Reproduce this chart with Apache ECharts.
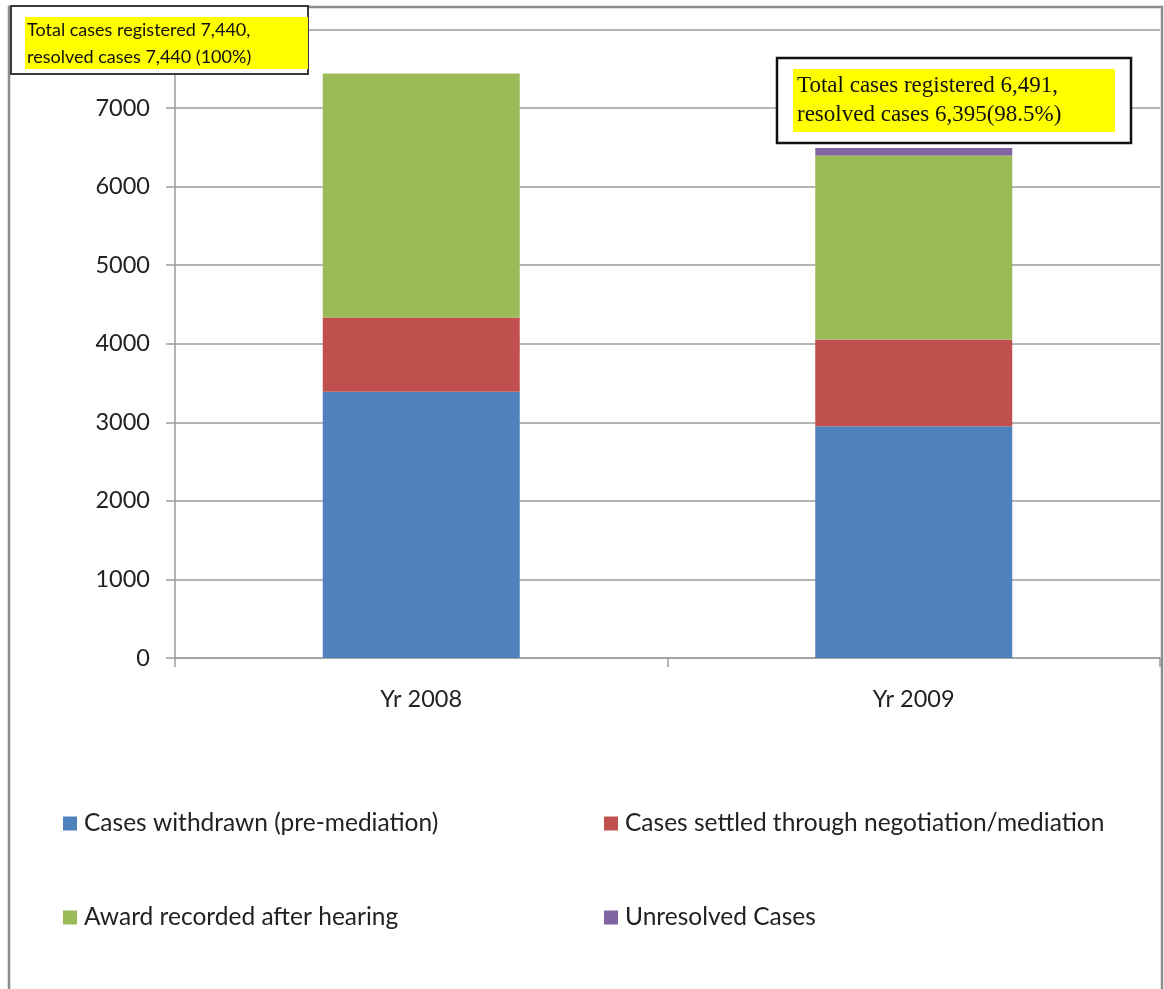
<!DOCTYPE html>
<html>
<head>
<meta charset="utf-8">
<style>
  html, body { margin: 0; padding: 0; background: #ffffff; }
  #chart { width: 1164px; height: 989px; }
</style>
<script src="https://cdn.jsdelivr.net/npm/echarts@6/dist/echarts.min.js"></script>
</head>
<body>
<div id="chart"></div>
<script>
// Case outcomes by year
const years = ['Yr 2008', 'Yr 2009'];
const withdrawn = [3390, 2950];
const settled = [945, 1105];
const awarded = [3105, 2340];
const unresolved = [0, 96];

const seriesNames = [
  'Cases withdrawn (pre-mediation)',
  'Cases settled through negotiation/mediation',
  'Award recorded after hearing',
  'Unresolved Cases'
];
const seriesColors = ['#4F81BD', '#C0504D', '#9BBB59', '#8064A2'];
const seriesValues = [withdrawn, settled, awarded, unresolved];

const yTicks = [0, 1000, 2000, 3000, 4000, 5000, 6000, 7000, 8000];

const note2008 = ['Total cases registered 7,440,', 'resolved cases 7,440 (100%)'];
const note2009 = ['Total cases registered 6,491,', 'resolved cases 6,395(98.5%)'];

const uiFont = 'Lato, "Open Sans", sans-serif';
const textColor = '#222222';
const axisGrey = '#9d9d9d';

const chart = echarts.init(document.getElementById('chart'), null, { renderer: 'canvas' });

// legend laid out as a 2 x 2 block
const legendSpots = [
  { left: 63, top: 811 },
  { left: 604, top: 811 },
  { left: 63, top: 905 },
  { left: 604, top: 905 }
];

const option = {
  animation: false,
  backgroundColor: '#ffffff',
  grid: { left: 175, right: 4, top: 29.4, bottom: 331, containLabel: false },
  xAxis: {
    type: 'category',
    data: years,
    boundaryGap: true,
    axisLine: { show: true, lineStyle: { color: axisGrey, width: 1.5 } },
    axisTick: { show: true, length: 9, alignWithLabel: false, lineStyle: { color: axisGrey, width: 1.5 } },
    axisLabel: { color: textColor, fontFamily: uiFont, fontSize: 23.5, margin: 29 },
    splitLine: { show: false }
  },
  yAxis: {
    type: 'value',
    min: yTicks[0],
    max: yTicks[yTicks.length - 1],
    interval: 1000,
    axisLine: { show: true, lineStyle: { color: axisGrey, width: 1.5 } },
    axisTick: { show: true, length: 9, lineStyle: { color: axisGrey, width: 1.5 } },
    axisLabel: {
      color: textColor, fontFamily: uiFont, fontSize: 23.5, margin: 25,
      formatter: (v) => String(v)
    },
    splitLine: { show: true, lineStyle: { color: axisGrey, width: 1.5 } }
  },
  legend: seriesNames.map((name, i) => ({
    data: [name],
    left: legendSpots[i].left,
    top: legendSpots[i].top,
    padding: 0,
    orient: 'horizontal',
    itemWidth: 14,
    itemHeight: 14,
    itemGap: 0,
    icon: 'rect',
    selectedMode: false,
    textStyle: { color: textColor, fontFamily: uiFont, fontSize: 24.5, padding: [0, 0, 0, 2] }
  })),
  series: seriesNames.map((name, i) => ({
    name: name,
    type: 'bar',
    stack: 'cases',
    barWidth: '40%',
    data: seriesValues[i],
    itemStyle: { color: seriesColors[i] },
    emphasis: { disabled: true }
  })),
  graphic: [
    // outer chart frame
    {
      type: 'rect', z: 50, silent: true,
      shape: { x: 9, y: 7, width: 1153, height: 1000 },
      style: { fill: 'none', stroke: '#8c8c8c', lineWidth: 2.5 }
    },
    // 2008 note box
    {
      type: 'rect', z: 60, silent: true,
      shape: { x: 11, y: 6, width: 297, height: 68 },
      style: { fill: '#ffffff', stroke: '#3a3a3a', lineWidth: 2 }
    },
    {
      type: 'rect', z: 61, silent: true,
      shape: { x: 25, y: 17, width: 283, height: 52 },
      style: { fill: '#ffff00' }
    },
    {
      type: 'text', z: 62, silent: true,
      left: 27, top: 17,
      style: {
        text: note2008.join('\n'),
        fill: '#111111',
        font: '18px ' + uiFont,
        lineHeight: 27
      }
    },
    // 2009 note box
    {
      type: 'rect', z: 60, silent: true,
      shape: { x: 777, y: 58, width: 354, height: 85 },
      style: { fill: '#ffffff', stroke: '#111111', lineWidth: 2.5 }
    },
    {
      type: 'rect', z: 61, silent: true,
      shape: { x: 793, y: 69, width: 322, height: 63 },
      style: { fill: '#ffff00' }
    },
    {
      type: 'text', z: 62, silent: true,
      left: 797, top: 71,
      style: {
        text: note2009.join('\n'),
        fill: '#111111',
        font: '23px "Liberation Serif", "Times New Roman", serif',
        lineHeight: 29
      }
    }
  ]
};

chart.setOption(option);
</script>
</body>
</html>
